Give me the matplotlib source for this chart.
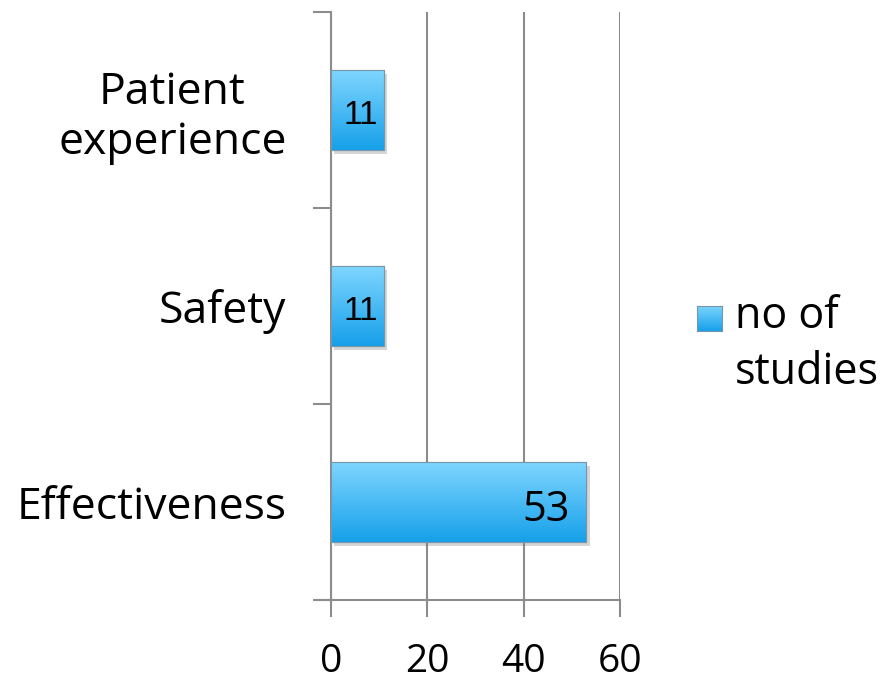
import matplotlib
matplotlib.use("Agg")
import matplotlib.pyplot as plt
import numpy as np
from matplotlib import patheffects as pe
from matplotlib.colors import LinearSegmentedColormap
from matplotlib.patches import Rectangle

categories = ["Effectiveness", "Safety", "Patient\nexperience"]
values = [53, 11, 11]
series_name = "no of\nstudies"
xticks = [0, 20, 40, 60]

plt.rcParams['font.family'] = ['Open Sans', 'DejaVu Sans']

fig = plt.figure(figsize=(8.92, 6.84), dpi=100)
ax = fig.add_axes([331/892, 84/684, 289/892, 588/684])

cmap = LinearSegmentedColormap.from_list("g", ["#16a0ea", "#80d6ff"])
grad = np.linspace(0, 1, 256).reshape(-1, 1)
edge = "#7896aa"

y = np.arange(len(categories))
bars = ax.barh(y, values, height=0.41, color="#4bb8f5", edgecolor=edge,
               linewidth=0.8, zorder=3)
for b in bars:
    b.set_path_effects([pe.SimplePatchShadow(offset=(2.5, -3), shadow_rgbFace="#777777", alpha=0.3), pe.Normal()])
    x0, y0 = b.get_x(), b.get_y()
    w, h = b.get_width(), b.get_height()
    im = ax.imshow(grad, extent=(x0, x0 + w, y0, y0 + h), origin="lower",
                   cmap=cmap, aspect="auto", zorder=3.5)
    im.set_clip_path(b)
    ax.add_patch(Rectangle((x0, y0), w, h, fill=False, edgecolor=edge,
                           linewidth=0.8, zorder=4))

for b, v in zip(bars, values):
    if v > 20:
        ax.text(b.get_width() - 3.5, b.get_y() + b.get_height() / 2 - 0.04, str(v),
                ha="right", va="center", fontsize=30, color="black", zorder=5)
    else:
        ax.text(b.get_width() - 1.2, b.get_y() + b.get_height() / 2 - 0.03, str(v),
                ha="right", va="center", fontsize=24, color="black", zorder=5,
                family=["Liberation Sans", "DejaVu Sans"])

ax.set_xlim(0, 60)
ax.set_ylim(-0.5, 2.5)
ax.set_xticks(xticks)
ax.set_xticklabels([str(t) for t in xticks], fontsize=28)
ax.set_yticks([-0.5, 0.5, 1.5, 2.5], minor=False)
ax.set_yticklabels([])
ax.set_yticks(y, minor=True)
ax.set_yticklabels(categories, minor=True, fontsize=32, linespacing=1.15,
                   multialignment="center")
ax.tick_params(axis='y', which='minor', length=0, pad=32)
ax.tick_params(axis='y', which='major', length=13, width=1.5, color="#8c8c8c", direction="out")
ax.tick_params(axis='x', length=12, width=1.5, color="#8c8c8c", pad=19)
ax.grid(axis='x', color="#8c8c8c", linewidth=1.5, zorder=0)
ax.set_axisbelow(True)
for s in ["top", "right"]:
    ax.spines[s].set_visible(False)
for s in ["left", "bottom"]:
    ax.spines[s].set_color("#8c8c8c")
    ax.spines[s].set_linewidth(1.5)
ax.spines["bottom"].set_bounds(-60 * 13 / 289, 60)

# legend
lax = fig.add_axes([697 / 892, 1 - 331 / 684, 25 / 892, 25 / 684])
lax.imshow(grad, origin="lower", cmap=cmap, aspect="auto", extent=(0, 1, 0, 1))
lax.set_xticks([]); lax.set_yticks([])
for s in lax.spines.values():
    s.set_color(edge); s.set_linewidth(0.8)
fig.text(735 / 892, 1 - 294 / 684, series_name, fontsize=31, va="top", ha="left",
         linespacing=1.35)

fig.savefig("out.png", dpi=100)
